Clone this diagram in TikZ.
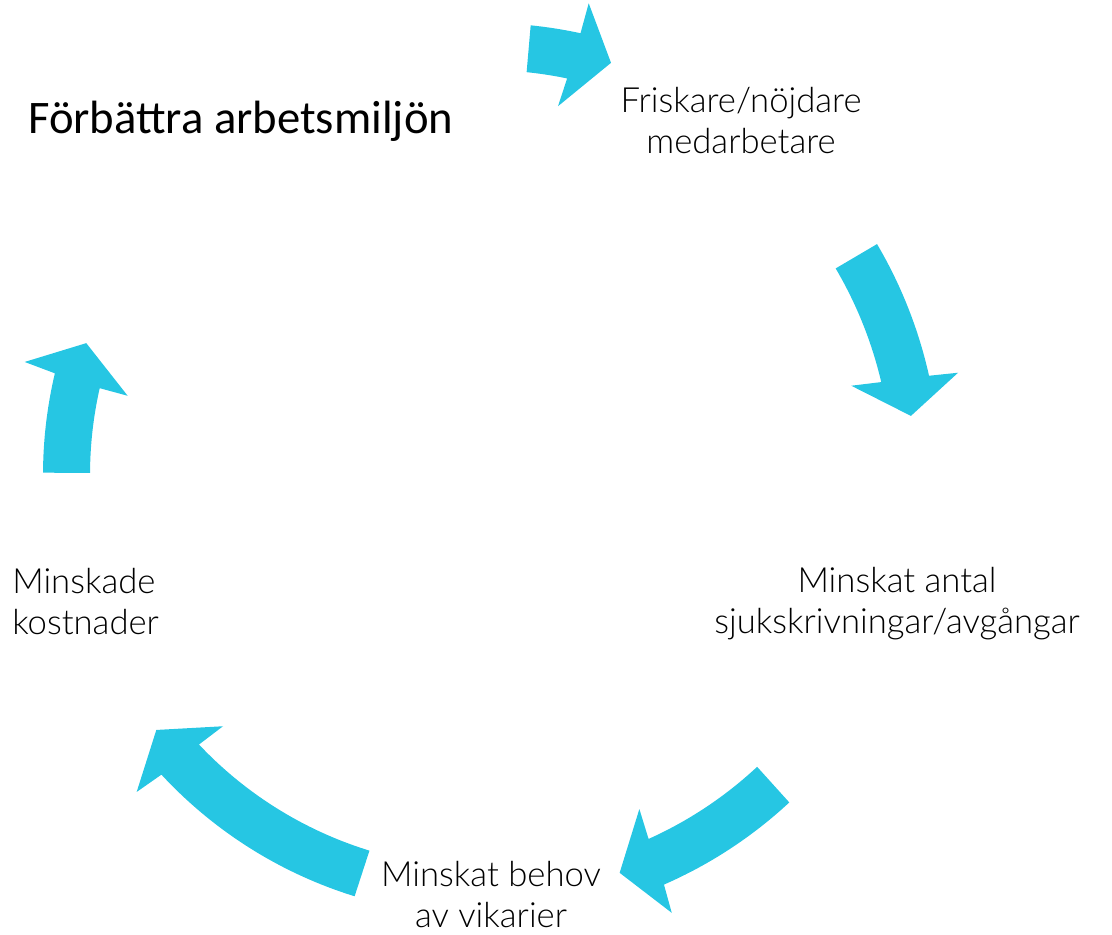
\documentclass[tikz,border=0pt]{standalone}
\usepackage{fontspec}
\setmainfont{Carlito}
\newfontfamily\lightfont{Lato Light}
\definecolor{arrowcyan}{RGB}{38,198,227}
\begin{document}
\begin{tikzpicture}[x=0.75pt,y=0.75pt,
  arr/.style={fill=arrowcyan, draw=none},
  lbl/.style={inner sep=0pt, font=\lightfont\fontsize{26}{30.75}\selectfont},
  ttl/.style={inner sep=0pt, font=\fontsize{35}{42}\selectfont}]
\useasboundingbox (0,0) rectangle (1112,-934);
\begin{scope}[shift={(485,-475)}]
% top arrow
\fill[arr] (84.2:452) arc[start angle=84.2, end angle=77.8, radius=452] -- (77.6:483) -- (73:431) -- (78.8:376) -- (78.3:405) arc[start angle=78.3, end angle=84.1, radius=405] -- cycle;
% right arrow
\fill[arr] (30.5:455) arc[start angle=30.5, end angle=12.6, radius=455] -- (12.2:484) -- (7.9:430) -- (13.7:377) -- (13.2:407) arc[start angle=13.2, end angle=30.5, radius=407] -- cycle;
% bottom-right arrow
\fill[arr] (-47.1:447) arc[start angle=-47.1, end angle=-66.4, radius=447] -- (-66.9:476) -- (-71.3:420) -- (-65.2:368) -- (-65.8:399) arc[start angle=-65.8, end angle=-47.0, radius=399] -- cycle;
% bottom-left arrow
\fill[arr] (-107.2:441) arc[start angle=-107.2, end angle=-137.2, radius=441] -- (-137.7:471) -- (-142.2:416) -- (-136.2:363) -- (-136.7:393) arc[start angle=-136.7, end angle=-107.1, radius=393] -- cycle;
% left arrow
\fill[arr] (179.7:442) arc[start angle=179.7, end angle=166.7, radius=442] -- (166.2:474) -- (161.7:420) -- (167.5:366) -- (167.3:395) arc[start angle=167.3, end angle=179.7, radius=395] -- cycle;
\end{scope}
\node[ttl, anchor=base west] (title) at (28,-134) {Förbättra arbetsmiljön};
\node[lbl, anchor=base] (friskare) at (741,-113) {\begin{tabular}[t]{@{}c@{}}Friskare/nöjdare\\medarbetare\end{tabular}};
\node[lbl, anchor=base] (sjuk) at (897,-592) {\begin{tabular}[t]{@{}c@{}}Minskat antal\\sjukskrivningar/avgångar\end{tabular}};
\node[lbl, anchor=base] (vikarier) at (491,-886) {\begin{tabular}[t]{@{}c@{}}Minskat behov\\av vikarier\end{tabular}};
\node[lbl, anchor=base west] (kostnader) at (12,-593) {\begin{tabular}[t]{@{}l@{}}Minskade\\kostnader\end{tabular}};
\end{tikzpicture}
\end{document}
